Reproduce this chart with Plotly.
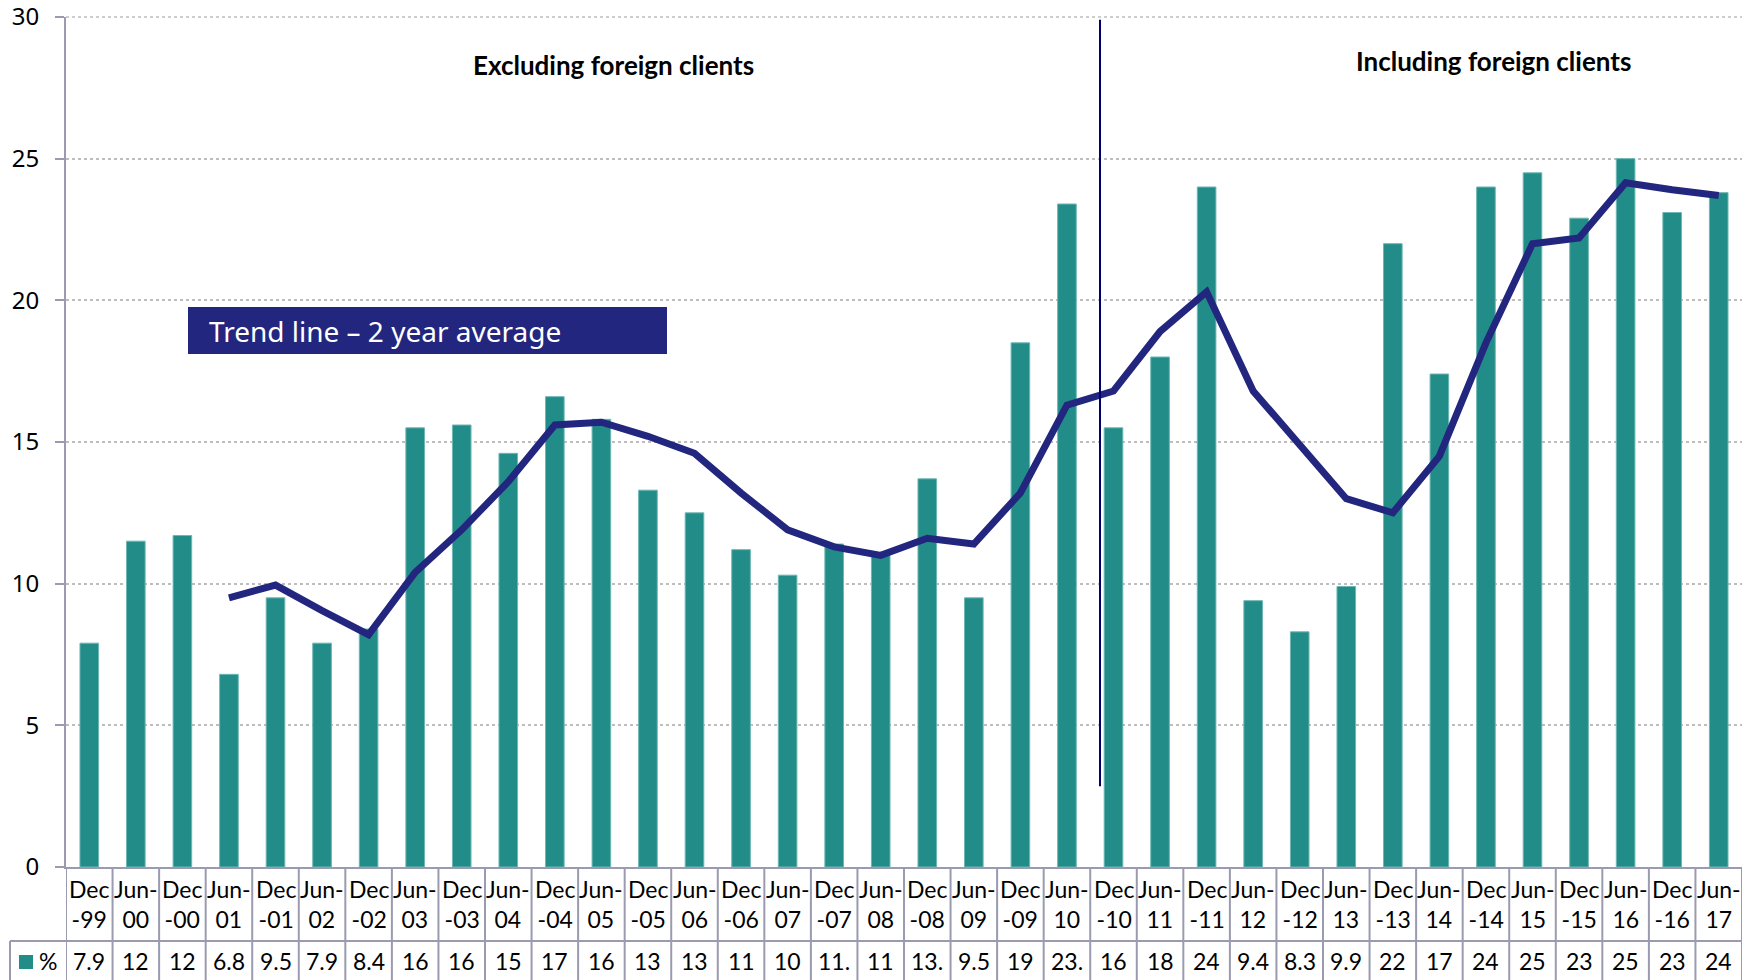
import plotly.graph_objects as go

# half-year periods
categories = [
    "Dec-99", "Jun-00", "Dec-00", "Jun-01", "Dec-01", "Jun-02", "Dec-02", "Jun-03", "Dec-03",
    "Jun-04", "Dec-04", "Jun-05", "Dec-05", "Jun-06", "Dec-06", "Jun-07", "Dec-07", "Jun-08",
    "Dec-08", "Jun-09", "Dec-09", "Jun-10", "Dec-10", "Jun-11", "Dec-11", "Jun-12", "Dec-12",
    "Jun-13", "Dec-13", "Jun-14", "Dec-14", "Jun-15", "Dec-15", "Jun-16", "Dec-16", "Jun-17",
]

# bar values (%)
pct = [
    7.9, 11.5, 11.7, 6.8, 9.5, 7.9, 8.4, 15.5, 15.6,
    14.6, 16.6, 15.8, 13.3, 12.5, 11.2, 10.3, 11.4, 11.0,
    13.7, 9.5, 18.5, 23.4, 15.5, 18.0, 24.0, 9.4, 8.3,
    9.9, 22.0, 17.4, 24.0, 24.5, 22.9, 25.0, 23.1, 23.8,
]

# what the data table under the chart shows (cells are narrow, so some get cut)
table_labels = [
    "7.9", "12", "12", "6.8", "9.5", "7.9", "8.4", "16", "16",
    "15", "17", "16", "13", "13", "11", "10", "11.", "11",
    "13.", "9.5", "19", "23.", "16", "18", "24", "9.4", "8.3",
    "9.9", "22", "17", "24", "25", "23", "25", "23", "24",
]

# 2 year average trend, starts at Jun-01
trend = [
    None, None, None, 9.5, 9.95, 9.05, 8.2, 10.4, 11.9,
    13.6, 15.6, 15.7, 15.2, 14.6, 13.2, 11.9, 11.3, 11.0,
    11.6, 11.4, 13.2, 16.3, 16.8, 18.9, 20.3, 16.8, 14.9,
    13.0, 12.5, 14.5, 18.5, 22.0, 22.2, 24.15, 23.9, 23.7,
]

y_ticks = [0, 5, 10, 15, 20, 25, 30]

BAR = "#228C89"
NAVY = "#23267E"
GRID_LINE = "#9A9AB0"

fig = go.Figure()

fig.add_trace(
    go.Bar(
        x=categories,
        y=pct,
        name="%",
        width=0.4,
        marker=dict(color=BAR, line=dict(color="#6DB7B4", width=1)),
    )
)

fig.add_trace(
    go.Scatter(
        x=categories,
        y=trend,
        name="Trend",
        mode="lines",
        line=dict(color=NAVY, width=7),
        connectgaps=False,
    )
)

shapes = []
annotations = []

# top gridline (plotly drops the one sitting on the edge)
shapes.append(
    dict(type="line", xref="paper", yref="paper", x0=0, x1=1, y0=1, y1=1,
         line=dict(color="#BDBDBD", width=1.5, dash="dot"))
)

# divider between the two client definitions
shapes.append(
    dict(type="line", xref="x", yref="y", x0=21.71, x1=21.71, y0=2.85, y1=29.9,
         line=dict(color="#00006E", width=2))
)

# data table under the plot
row_split = (867 - 941) / 850
bottom = (867 - 990) / 850
for i in range(len(categories) + 1):
    shapes.append(
        dict(type="line", xref="x", yref="paper", x0=i - 0.5, x1=i - 0.5, y0=0, y1=bottom,
             line=dict(color=GRID_LINE, width=2))
    )
shapes.append(
    dict(type="line", xref="paper", yref="paper", x0=-56 / 1676, x1=1, y0=row_split, y1=row_split,
         line=dict(color=GRID_LINE, width=2))
)
shapes.append(
    dict(type="line", xref="paper", yref="paper", x0=-56 / 1676, x1=-56 / 1676, y0=row_split, y1=bottom,
         line=dict(color=GRID_LINE, width=2))
)
# legend key in the table
shapes.append(
    dict(type="rect", xref="paper", yref="paper", x0=-47 / 1676, x1=-33 / 1676,
         y0=(867 - 955) / 850, y1=(867 - 969) / 850, fillcolor=BAR, line=dict(width=0))
)
annotations.append(
    dict(text="%", xref="paper", yref="paper", x=-18.5 / 1676, y=(867 - 961) / 850,
         xanchor="center", yanchor="middle", showarrow=False,
         font=dict(family="Lato", size=23, color="black"))
)

for i, (cat, lab) in enumerate(zip(categories, table_labels)):
    mon, yr = cat.split("-")
    head = f"{mon}<br>-{yr}" if mon == "Dec" else f"{mon}-<br>{yr}"
    annotations.append(
        dict(text=head, xref="x", yref="paper", x=i, y=(867 - 904) / 850,
             xanchor="center", yanchor="middle", showarrow=False,
             font=dict(family="Lato", size=23, color="black"))
    )
    annotations.append(
        dict(text=lab, xref="x", yref="paper", x=i, y=(867 - 961) / 850,
             xanchor="center", yanchor="middle", showarrow=False,
             font=dict(family="Lato", size=23, color="black"))
    )

# section headings
annotations.append(
    dict(text="<b>Excluding foreign clients</b>", xref="x", yref="y", x=11.25, y=28.3,
         xanchor="center", yanchor="middle", showarrow=False,
         font=dict(family="Lato", size=26, color="black"))
)
annotations.append(
    dict(text="<b>Including foreign clients</b>", xref="x", yref="y", x=30.17, y=28.45,
         xanchor="center", yanchor="middle", showarrow=False,
         font=dict(family="Lato", size=26, color="black"))
)

# trend label box
shapes.append(
    dict(type="rect", xref="paper", yref="paper", x0=122 / 1676, x1=601 / 1676,
         y0=(867 - 354) / 850, y1=(867 - 307) / 850, fillcolor=NAVY, line=dict(width=0))
)
annotations.append(
    dict(text="Trend line \u2013 2 year average", xref="paper", yref="paper", x=141 / 1676,
         y=(867 - 331) / 850, xanchor="left", yanchor="middle", showarrow=False,
         font=dict(family="Noto Sans", size=28, color="white"))
)

fig.update_layout(
    width=1753,
    height=980,
    margin=dict(l=66, r=11, t=17, b=113),
    plot_bgcolor="white",
    paper_bgcolor="white",
    showlegend=False,
    shapes=shapes,
    annotations=annotations,
)

fig.update_xaxes(
    type="category",
    range=[-0.5, len(categories) - 0.5],
    showticklabels=False,
    ticks="",
    showgrid=False,
    showline=True,
    linecolor=GRID_LINE,
    linewidth=2,
    automargin=False,
)

fig.update_yaxes(
    range=[0, 30],
    tickmode="array",
    tickvals=y_ticks,
    ticks="outside",
    ticklen=9,
    tickwidth=2,
    tickcolor=GRID_LINE,
    ticklabeloverflow="allow",
    automargin=False,
    showline=True,
    linecolor=GRID_LINE,
    linewidth=2,
    showgrid=True,
    gridcolor="#BDBDBD",
    griddash="dot",
    gridwidth=1.5,
    zeroline=False,
    tickfont=dict(family="Noto Sans", size=24, color="black"),
    ticklabelstandoff=11,
)

fig.write_html(
    "out.html",
    config={"displayModeBar": False},
    post_script="document.body.style.margin='0';",
)
